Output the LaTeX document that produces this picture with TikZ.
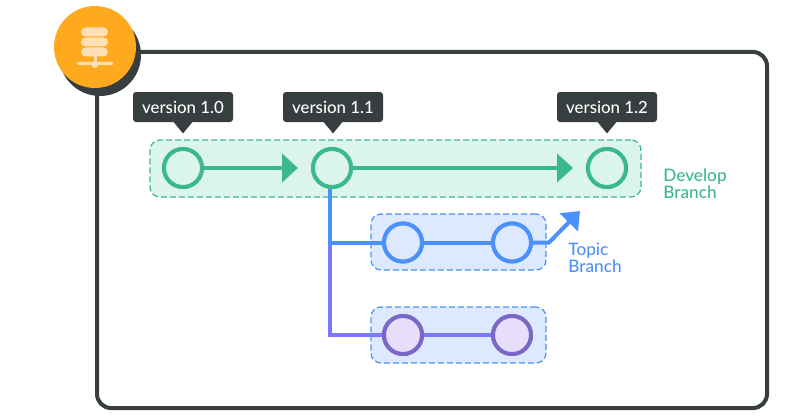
\documentclass[tikz,border=0pt]{standalone}
\usepackage{fontspec}
\setmainfont{Lato Medium}
\usepackage{xcolor}
\usetikzlibrary{arrows.meta}

\definecolor{slate}{HTML}{373E40}
\definecolor{amber}{HTML}{FFA91F}
\definecolor{amberlight}{HTML}{FFE0B5}
\definecolor{devgreen}{HTML}{3BB98D}
\definecolor{devfill}{HTML}{DCF5EC}
\definecolor{topicblue}{HTML}{4C91FB}
\definecolor{topicfill}{HTML}{DCE9FE}
\definecolor{lilac}{HTML}{7B78FB}
\definecolor{lilacdark}{HTML}{7A68C6}
\definecolor{lilacfill}{HTML}{E6DEFA}

\begin{document}
\begin{tikzpicture}[x=1pt,y=-1pt,thick,font=\fontsize{16.8}{17}\selectfont,
    band/.style={draw,dashed,dash pattern=on 6pt off 3pt,line width=1.2pt,rounded corners=10pt,inner sep=0pt},
    devband/.style={band,draw=devgreen,fill=devfill,minimum width=491pt,minimum height=57pt},
    topicband/.style={band,draw=topicblue,fill=topicfill,minimum width=175pt,minimum height=56pt},
    base/.style={circle,line width=4pt,minimum size=38pt,inner sep=0pt},
    dev/.style={base,draw=devgreen,fill=devfill},
    topic/.style={base,draw=topicblue,fill=topicfill},
    lilacbase/.style={base,draw=lilacdark,fill=lilacfill},
    versiontag/.style={fill=slate,text=white,rounded corners=3pt,minimum width=100pt,minimum height=30pt,inner sep=0pt},
    pointer/.style={fill=slate},
    label/.style={align=left,anchor=north west,inner sep=0pt,font=\fontsize{17.2}{17.6}\selectfont}]

    \useasboundingbox (0,0) rectangle (800,420);

    % frame and badge
    \node[draw=slate,line width=4pt,rounded corners=14pt,minimum width=670pt,minimum height=356pt,inner sep=0pt] (frame) at (432,230) {};
    \node[circle,fill=slate,minimum size=82pt,inner sep=0pt] (shadow) at (100,55) {};
    \node[circle,fill=amber,minimum size=82pt,inner sep=0pt] (badge) at (95,47) {};
    \foreach \y in {32,42,52}
        \fill[amberlight,rounded corners=4.5pt] (81,\y-4.5) rectangle (108,\y+4.5);
    \fill[amberlight] (93.5,56) rectangle (96.5,64);
    \fill[amberlight,rounded corners=1pt] (77,62) rectangle (113,65);
    \fill[amberlight] (95,64.5) circle (3.5);

    % bands
    \node[devband] (devbox) at (395.5,168.5) {};
    \node[topicband] (topicbox) at (458.5,242) {};
    \node[topicband] (lilacbox) at (458.5,335) {};

    % commits
    \node[dev] (d1) at (183,168) {};
    \node[dev,right of=d1,node distance=149pt] (d2) {};
    \node[dev,right of=d2,node distance=275pt] (d3) {};
    \node[topic] (t1) at (403,242.5) {};
    \node[topic,right of=t1,node distance=109pt] (t2) {};
    \node[lilacbase] (p1) at (403,335) {};
    \node[lilacbase,right of=p1,node distance=109pt] (p2) {};

    \coordinate (topicfork) at (330,242.5);
    \coordinate (lilacfork) at (330,335);
    \coordinate (elbow) at (549,242.5);
    \coordinate (topictip) at (580,211);
    \coordinate (devtip1) at (298,168);
    \coordinate (devtip2) at (573,168);

    % connectors
    \begin{scope}[line width=4pt]
        \draw[lilac] (topicfork) -- (lilacfork) -- (p1);
        \draw[lilac] (p1) -- (p2);
        \draw[topicblue] (d2.south -| topicfork) -- (topicfork) -- (t1);
        \draw[topicblue] (t1) -- (t2);
        \draw[topicblue,line join=bevel,-{Triangle[length=16pt,width=25pt]}] (t2) -- (elbow) -- (topictip);
        \draw[devgreen,-{Triangle[length=16pt,width=28pt]}] (d1) -- (devtip1);
        \draw[devgreen,-{Triangle[length=16pt,width=28pt]}] (d2) -- (devtip2);
    \end{scope}

    % redraw on top of the lines
    \node[dev] at (d1) {};
    \node[dev] at (d2) {};
    \node[dev] at (d3) {};
    \node[topic] at (t1) {};
    \node[topic] at (t2) {};
    \node[lilacbase] at (p1) {};
    \node[lilacbase] at (p2) {};

    % tags
    \node[versiontag] (v1) at (183,107) {version 1.0};
    \node[versiontag] (v2) at (333,107) {version 1.1};
    \node[versiontag] (v3) at (607,107) {version 1.2};
    \foreach \n in {v1,v2,v3}
        \fill[pointer] ([xshift=-10pt,yshift=1pt]\n.south) -- ([xshift=10pt,yshift=1pt]\n.south) -- ([yshift=-11pt]\n.south) -- cycle;

    % labels
    \node[label,text=devgreen] (devlabel) at (663,168) {Develop\\Branch};
    \node[label,text=topicblue] (topiclabel) at (568,242) {Topic\\Branch};
\end{tikzpicture}
\end{document}
